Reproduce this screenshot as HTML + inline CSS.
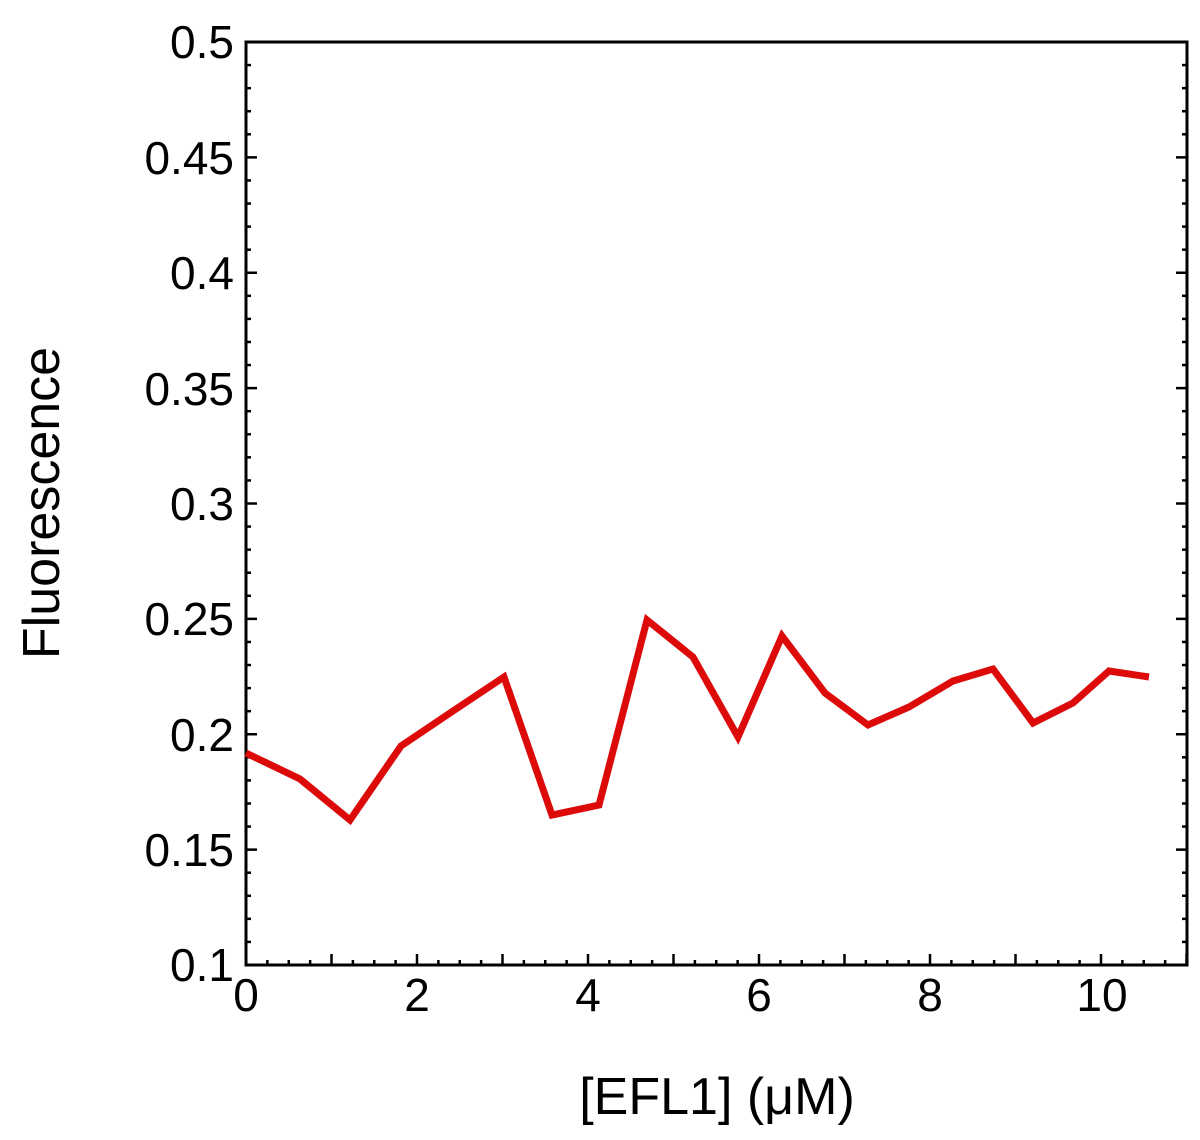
<!DOCTYPE html>
<html><head><meta charset="utf-8"><style>body{margin:0;background:#fff}svg{display:block}</style></head>
<body>
<svg id="s" width="1200" height="1140" xmlns="http://www.w3.org/2000/svg" font-family="Liberation Sans, sans-serif">
<rect x="0" y="0" width="1200" height="1140" fill="#fff"/>
<g id="ticks" stroke="#000" stroke-width="2.5"></g>
<rect x="246" y="42" width="941" height="923" fill="none" stroke="#000" stroke-width="3"/>
<polyline fill="none" stroke="#dd0a0a" stroke-width="7" stroke-linejoin="miter" points="246,753 300,779 350,820 401,746 453,711 504,677 552,815 599,805 647,620 693,657 738,737 782,636 825,693 868,725 909,707 953,681 993,669 1033,723 1073,703 1109,671 1149,677"/>
<g font-size="46" fill="#000" text-anchor="end">
<text x="234" y="58">0.5</text>
<text x="234" y="174">0.45</text>
<text x="234" y="289">0.4</text>
<text x="234" y="405">0.35</text>
<text x="234" y="520">0.3</text>
<text x="234" y="635">0.25</text>
<text x="234" y="751">0.2</text>
<text x="234" y="866">0.15</text>
<text x="234" y="981">0.1</text>
</g>
<g font-size="46" fill="#000" text-anchor="middle">
<text x="246" y="1011">0</text>
<text x="417" y="1011">2</text>
<text x="588" y="1011">4</text>
<text x="759" y="1011">6</text>
<text x="930" y="1011">8</text>
<text x="1102" y="1011">10</text>
<text x="717" y="1114" font-size="52">[EFL1] (μM)</text>
<text transform="translate(59,503) rotate(-90)" font-size="52">Fluorescence</text>
</g>
</svg>
<script>
var g=document.getElementById('ticks'),h='';
function L(a,b,c,d){h+='<line x1="'+a+'" y1="'+b+'" x2="'+c+'" y2="'+d+'"/>';}
for(var i=0;i<=40;i++){var y=965-i*923/40,len=i%5==0?11:5;L(246,y,246+len,y);L(1187,y,1187-len,y);}
for(var i=0;i<=44;i++){var x=246+i*85.5/4;if(x>1187)break;var len=i%4==0?11:5;L(x,965,x,965-len);}
g.innerHTML=h;
</script>
</body></html>
